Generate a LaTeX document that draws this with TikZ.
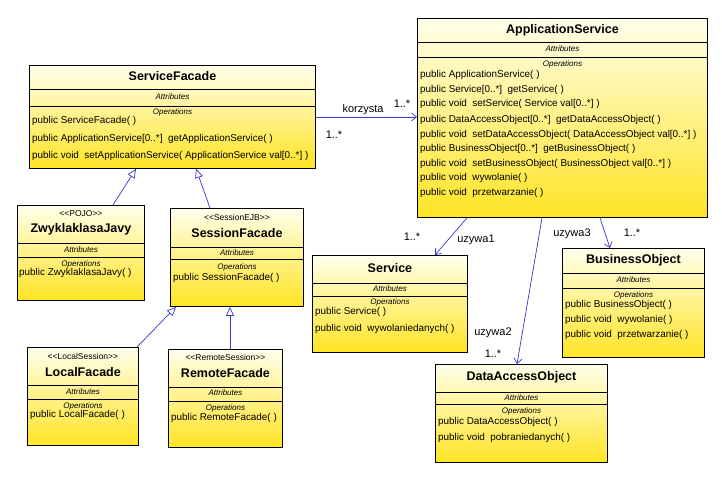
\documentclass[tikz,border=0pt]{standalone}
\usepackage{fontspec}
\setmainfont{Liberation Sans}
\usetikzlibrary{arrows.meta}
\definecolor{ytop}{RGB}{255,255,236}
\definecolor{ybot}{RGB}{255,228,36}
\definecolor{lnblue}{RGB}{56,56,204}
\tikzset{
  cls/.style={draw=black, line width=0.9pt, top color=ytop, bottom color=ybot, inner sep=0pt, anchor=north west, rectangle},
  sepl/.style={draw=black, line width=0.8pt},
  ttl/.style={font=\fontsize{12.5}{14}\selectfont\bfseries, inner sep=0pt},
  stereo/.style={font=\fontsize{8.5}{9}\selectfont, inner sep=0pt},
  comp/.style={font=\fontsize{8}{9}\selectfont\itshape, inner sep=0pt},
  meth/.style={font=\fontsize{9.9}{11}\selectfont, anchor=west, inner sep=0pt},
  lbl/.style={font=\fontsize{11}{13}\selectfont, inner sep=0pt},
  assoc/.style={draw=lnblue, line width=0.7pt, -{Straight Barb[length=5pt,width=8pt]}},
  gen/.style={draw=lnblue, line width=0.7pt, -{Triangle[open,length=9pt,width=8pt,fill=white]}}
}
\begin{document}
\begin{tikzpicture}[x=1pt,y=-1pt]
\useasboundingbox[fill=white] (0,0) rectangle (722,476);

% ServiceFacade
\node[cls, minimum width=286pt, minimum height=103pt] (sf) at (29,65) {};
\draw[sepl] (sf.west |- 0,89) -- (sf.east |- 0,89);
\draw[sepl] (sf.west |- 0,106) -- (sf.east |- 0,106);
\node[ttl] (sft) at (sf.north |- 0,76) {ServiceFacade};
\node[comp] (sfa) at (sf.north |- 0,97) {Attributes};
\node[comp] (sfo) at (sf.north |- 0,112) {Operations};
\node[meth] (sfm1) at (32,121) {public ServiceFacade( )};
\node[meth] (sfm2) at (32,139) {public ApplicationService[0..*]\ \ getApplicationService( )};
\node[meth] (sfm3) at (32,156) {public void\ \ setApplicationService( ApplicationService val[0..*] )};

% ApplicationService
\node[cls, minimum width=290pt, minimum height=199pt] (as) at (417,18) {};
\draw[sepl] (as.west |- 0,42) -- (as.east |- 0,42);
\draw[sepl] (as.west |- 0,57) -- (as.east |- 0,57);
\node[ttl] (ast) at (as.north |- 0,30) {ApplicationService};
\node[comp] (asa) at (as.north |- 0,49) {Attributes};
\node[comp] (aso) at (as.north |- 0,64) {Operations};
\node[meth] (asm1) at (420,75) {public ApplicationService( )};
\node[meth] (asm2) at (420,90) {public Service[0..*]\ \ getService( )};
\node[meth] (asm3) at (420,104) {public void\ \ setService( Service val[0..*] )};
\node[meth] (asm4) at (420,120) {public DataAccessObject[0..*]\ \ getDataAccessObject( )};
\node[meth] (asm5) at (420,135) {public void\ \ setDataAccessObject( DataAccessObject val[0..*] )};
\node[meth] (asm6) at (420,149) {public BusinessObject[0..*]\ \ getBusinessObject( )};
\node[meth] (asm7) at (420,164) {public void\ \ setBusinessObject( BusinessObject val[0..*] )};
\node[meth] (asm8) at (420,178) {public void\ \ wywolanie( )};
\node[meth] (asm9) at (420,193) {public void\ \ przetwarzanie( )};

% ZwyklaklasaJavy
\node[cls, minimum width=127pt, minimum height=95pt] (zj) at (17,205) {};
\draw[sepl] (zj.west |- 0,243) -- (zj.east |- 0,243);
\draw[sepl] (zj.west |- 0,257) -- (zj.east |- 0,257);
\node[stereo] (zjs) at (zj.north |- 0,214) {<{}<POJO>{}>};
\node[ttl] (zjt) at (zj.north |- 0,229) {ZwyklaklasaJavy};
\node[comp] (zja) at (zj.north |- 0,250) {Attributes};
\node[comp] (zjo) at (zj.north |- 0,264) {Operations};
\node[meth] (zjm1) at (19,273) {public ZwyklaklasaJavy( )};

% SessionFacade
\node[cls, minimum width=133pt, minimum height=98pt] (ses) at (170,208) {};
\draw[sepl] (ses.west |- 0,247) -- (ses.east |- 0,247);
\draw[sepl] (ses.west |- 0,259) -- (ses.east |- 0,259);
\node[stereo] (sess) at (ses.north |- 0,217) {<{}<SessionEJB>{}>};
\node[ttl] (sest) at (ses.north |- 0,233) {SessionFacade};
\node[comp] (sesa) at (ses.north |- 0,253) {Attributes};
\node[comp] (seso) at (ses.north |- 0,267) {Operations};
\node[meth] (sesm1) at (173,278) {public SessionFacade( )};

% LocalFacade
\node[cls, minimum width=111pt, minimum height=98pt] (lf) at (27,347) {};
\draw[sepl] (lf.west |- 0,385) -- (lf.east |- 0,385);
\draw[sepl] (lf.west |- 0,399) -- (lf.east |- 0,399);
\node[stereo] (lfs) at (lf.north |- 0,356) {<{}<LocalSession>{}>};
\node[ttl] (lft) at (lf.north |- 0,372) {LocalFacade};
\node[comp] (lfa) at (lf.north |- 0,392) {Attributes};
\node[comp] (lfo) at (lf.north |- 0,406) {Operations};
\node[meth] (lfm1) at (30,415) {public LocalFacade( )};

% RemoteFacade
\node[cls, minimum width=114pt, minimum height=98pt] (rf) at (168,349) {};
\draw[sepl] (rf.west |- 0,387) -- (rf.east |- 0,387);
\draw[sepl] (rf.west |- 0,401) -- (rf.east |- 0,401);
\node[stereo] (rfs) at (rf.north |- 0,357) {<{}<RemoteSession>{}>};
\node[ttl] (rft) at (rf.north |- 0,373) {RemoteFacade};
\node[comp] (rfa) at (rf.north |- 0,393) {Attributes};
\node[comp] (rfo) at (rf.north |- 0,408) {Operations};
\node[meth] (rfm1) at (171,418) {public RemoteFacade( )};

% Service
\node[cls, minimum width=155pt, minimum height=97pt] (svc) at (312,255) {};
\draw[sepl] (svc.west |- 0,283) -- (svc.east |- 0,283);
\draw[sepl] (svc.west |- 0,296) -- (svc.east |- 0,296);
\node[ttl] (svct) at (svc.north |- 0,268) {Service};
\node[comp] (svca) at (svc.north |- 0,289) {Attributes};
\node[comp] (svco) at (svc.north |- 0,302) {Operations};
\node[meth] (svcm1) at (315,312) {public Service( )};
\node[meth] (svcm2) at (315,329) {public void\ \ wywolaniedanych( )};

% BusinessObject
\node[cls, minimum width=142pt, minimum height=109pt] (bo) at (562,248) {};
\draw[sepl] (bo.west |- 0,273) -- (bo.east |- 0,273);
\draw[sepl] (bo.west |- 0,288) -- (bo.east |- 0,288);
\node[ttl] (bot) at (bo.north |- 0,260) {BusinessObject};
\node[comp] (boa) at (bo.north |- 0,280) {Attributes};
\node[comp] (boo) at (bo.north |- 0,295) {Operations};
\node[meth] (bom1) at (565,305) {public BusinessObject( )};
\node[meth] (bom2) at (565,320) {public void\ \ wywolanie( )};
\node[meth] (bom3) at (565,335) {public void\ \ przetwarzanie( )};

% DataAccessObject
\node[cls, minimum width=172pt, minimum height=98pt] (dao) at (435,364) {};
\draw[sepl] (dao.west |- 0,392) -- (dao.east |- 0,392);
\draw[sepl] (dao.west |- 0,404) -- (dao.east |- 0,404);
\node[ttl] (daot) at (dao.north |- 0,377) {DataAccessObject};
\node[comp] (daoa) at (dao.north |- 0,398) {Attributes};
\node[comp] (daoo) at (dao.north |- 0,411) {Operations};
\node[meth] (daom1) at (438,422) {public DataAccessObject( )};
\node[meth] (daom2) at (438,438) {public void\ \ pobraniedanych( )};

% associations
\draw[assoc] (sf.east) -- (sf.east -| as.west);
\node[lbl] (lk) at (363,110) {korzysta};
\node[lbl] (lk1) at (402,104) {1..*};
\node[lbl] (lk2) at (334,135) {1..*};

\draw[assoc] ([xshift=50pt]as.south west) -- ([xshift=123pt]svc.north west);
\node[lbl] (lu1) at (476,240) {uzywa1};
\node[lbl] (lu1m) at (412,237) {1..*};

\draw[assoc] ([xshift=125pt]as.south west) -- ([xshift=82pt]dao.north west);
\node[lbl] (lu2) at (493,333) {uzywa2};
\node[lbl] (lu2m) at (493,354) {1..*};

\draw[assoc] ([xshift=183pt]as.south west) -- ([xshift=48pt]bo.north west);
\node[lbl] (lu3) at (572,234) {uzywa3};
\node[lbl] (lu3m) at (632,233) {1..*};

% generalizations
\draw[gen] ([xshift=96pt]zj.north west) -- ([xshift=107pt]sf.south west);
\draw[gen] ([xshift=40pt]ses.north west) -- ([xshift=167pt]sf.south west);
\draw[gen] ([xshift=110pt]lf.north west) -- ([xshift=6pt]ses.south west);
\draw[gen] ([xshift=62pt]rf.north west) -- ([xshift=60pt]ses.south west);
\end{tikzpicture}
\end{document}
